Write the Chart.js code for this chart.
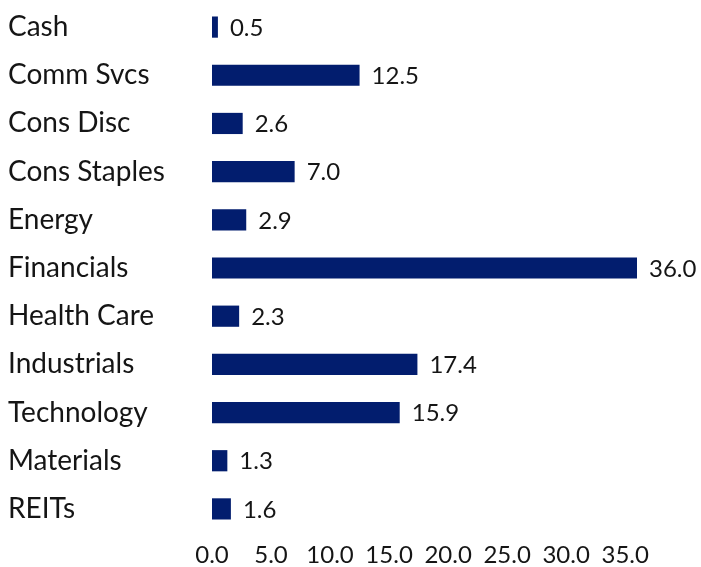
<!DOCTYPE html>
<html>
<head>
<meta charset="utf-8">
<script src="https://cdn.jsdelivr.net/npm/chart.js@4.4.0/dist/chart.umd.min.js"></script>
<style>
html,body{margin:0;padding:0;background:#fff;}
#wrap{width:701px;height:567px;position:relative;}
</style>
</head>
<body>
<div id="wrap"><canvas id="c"></canvas></div>
<script>
const categories = ["Cash","Comm Svcs","Cons Disc","Cons Staples","Energy","Financials","Health Care","Industrials","Technology","Materials","REITs"];
const values = [0.5,12.5,2.6,7.0,2.9,36.0,2.3,17.4,15.9,1.3,1.6];
const tickValues = [0,5,10,15,20,25,30,35];

const FONT = "Lato, 'Noto Sans', sans-serif";
const BAR = "#021d6e";

const valueLabels = {
  id: 'valueLabels',
  afterDatasetsDraw(chart) {
    const ctx = chart.ctx;
    const meta = chart.getDatasetMeta(0);
    ctx.save();
    ctx.font = "24px " + FONT;
    ctx.fillStyle = "#151515";
    ctx.textAlign = "left";
    ctx.textBaseline = "middle";
    meta.data.forEach((el, i) => {
      ctx.fillText(values[i].toFixed(1), el.x + 12, el.y + 1);
    });
    ctx.restore();
  }
};

new Chart(document.getElementById('c'), {
  type: 'bar',
  data: {
    labels: categories,
    datasets: [{
      data: values,
      backgroundColor: BAR,
      borderWidth: 0,
      categoryPercentage: 1,
      barPercentage: 0.44
    }]
  },
  plugins: [valueLabels],
  options: {
    indexAxis: 'y',
    responsive: true,
    maintainAspectRatio: false,
    animation: false,
    layout: { padding: { left: 8, right: 64, top: 3, bottom: 0 } },
    plugins: { legend: { display: false }, tooltip: { enabled: false } },
    scales: {
      x: {
        min: 0,
        max: 36,
        afterBuildTicks(scale) { scale.ticks = tickValues.map(v => ({ value: v })); },
        afterFit(scale) { scale.height = 34; scale.paddingLeft = 0; scale.paddingRight = 0; },
        grid: { display: false, drawTicks: false },
        border: { display: false },
        ticks: {
          font: { family: FONT, size: 24, lineHeight: 1.0 },
          color: "#151515",
          padding: 10,
          maxRotation: 0,
          autoSkip: false,
          callback: (v) => Number(v).toFixed(1)
        }
      },
      y: {
        grid: { display: false, drawTicks: false },
        border: { display: false },
        afterFit(scale) { scale.width = 204; scale.paddingTop = 0; scale.paddingBottom = 0; },
        ticks: {
          font: { family: FONT, size: 28 },
          color: "#151515",
          crossAlign: 'far',
          padding: 0,
          autoSkip: false
        }
      }
    }
  }
});
</script>
</body>
</html>
